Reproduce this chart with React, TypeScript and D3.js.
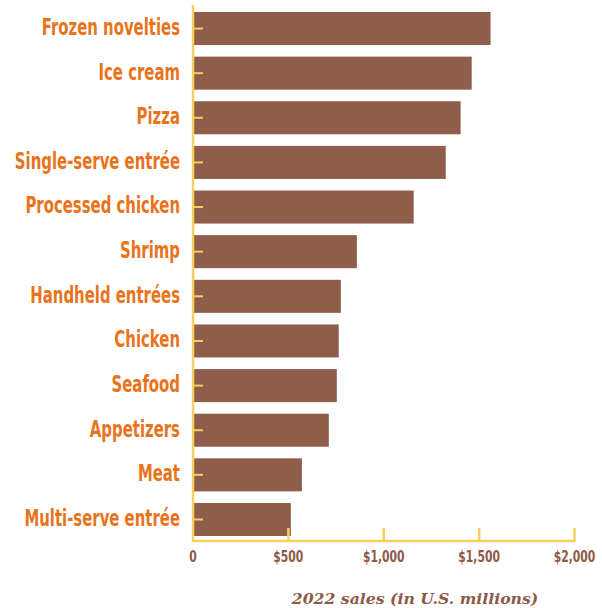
import React from "react";
import * as d3 from "d3";

const categories = [
  "Frozen novelties",
  "Ice cream",
  "Pizza",
  "Single-serve entrée",
  "Processed chicken",
  "Shrimp",
  "Handheld entrées",
  "Chicken",
  "Seafood",
  "Appetizers",
  "Meat",
  "Multi-serve entrée",
];
const sales = [1560, 1461, 1403, 1325, 1157, 859, 775, 764, 754, 712, 571, 513];
const tickValues = [0, 500, 1000, 1500, 2000];
const tickLabels = ["0", "$500", "$1,000", "$1,500", "$2,000"];
const axisTitle = "2022 sales (in U.S. millions)";

const W = 602;
const H = 608;
const BAR = "#8F5E4B";
const ORANGE = "#E8731A";
const YELLOW = "#F8CF5E";
const BROWN = "#8C5A48";

export default function App() {
  const x = d3.scaleLinear().domain([0, 2000]).range([193, 574.5]);
  const y = d3.scaleBand<string>().domain(categories).range([12, 536]).paddingInner(0.26).paddingOuter(0);
  const baseY = 541;
  const labelFont = "'DejaVu Sans Condensed', 'DejaVu Sans', sans-serif";
  return (
    <svg width={W} height={H} style={{ position: "absolute", left: 0, top: 0 }}>
      {categories.map((c, i) => (
        <rect key={c} x={x(0) + 1} y={y(c)!} width={x(sales[i]) - x(0) - 1} height={y.bandwidth()} fill={BAR} />
      ))}
      {categories.map((c) => {
        const cy = y(c)! + y.bandwidth() / 2;
        return (
          <g key={"t" + c}>
            <line x1={x(0)} x2={x(0) + 10} y1={cy} y2={cy} stroke={YELLOW} strokeWidth={2} />
            <text
              x={180}
              y={cy}
              dy="0.28em"
              textAnchor="end"
              fill={ORANGE}
              fontFamily={labelFont}
              fontWeight="bold"
              fontSize={23}
              transform={`translate(180,0) scale(0.72,1) translate(-180,0)`}
            >
              {c}
            </text>
          </g>
        );
      })}
      <line x1={x(0)} x2={x(0)} y1={5} y2={baseY + 1} stroke={YELLOW} strokeWidth={2.5} />
      <line x1={x(0) - 1} x2={x(2000) + 1} y1={baseY} y2={baseY} stroke={YELLOW} strokeWidth={2.5} />
      {tickValues.map((v, i) => (
        <g key={"x" + v}>
          {v !== 0 && <line x1={x(v)} x2={x(v)} y1={baseY - 13} y2={baseY} stroke={YELLOW} strokeWidth={2.5} />}
          <text
            x={x(v)}
            y={562}
            textAnchor="middle"
            fill={BROWN}
            fontFamily={labelFont}
            fontWeight="bold"
            fontSize={15}
            transform={`translate(${x(v)},0) scale(0.8,1) translate(${-x(v)},0)`}
          >
            {tickLabels[i]}
          </text>
        </g>
      ))}
      <text
        x={415}
        y={604}
        textAnchor="middle"
        fill={BROWN}
        fontFamily="'DejaVu Serif', 'Liberation Serif', serif"
        fontWeight="bold"
        fontStyle="italic"
        fontSize={15.7}
      >
        {axisTitle}
      </text>
    </svg>
  );
}
